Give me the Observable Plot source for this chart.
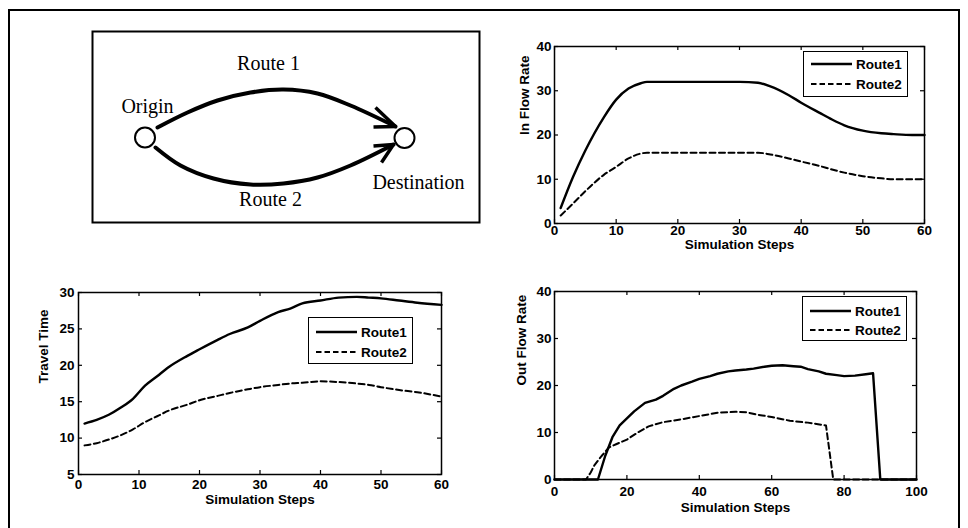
<!DOCTYPE html>
<html>
<head>
<meta charset="utf-8">
<script src="https://cdn.jsdelivr.net/npm/d3@7"></script>
<script src="https://cdn.jsdelivr.net/npm/@observablehq/plot@0.6"></script>
<style>
  body { margin: 0; background: white; }
  #root { position: relative; width: 968px; height: 528px; overflow: hidden; background: white; }
  .outer { position: absolute; left: 8px; top: 9px; width: 952px; height: 560px; border: 2px solid #000; box-sizing: border-box; }
  .panel { position: absolute; }
  .legend { position: absolute; border: 1.3px solid #000; background: white; box-sizing: border-box;
            font-family: "Liberation Sans", Arial, sans-serif; font-weight: bold; font-size: 13.5px; color: #000; }
  .legend .row { position: absolute; left: 0; height: 16px; display: flex; align-items: center; }
  .legend svg { display: block; }
</style>
</head>
<body>
<div id="root"><div class="outer"></div></div>
<script>
// ---------------- Data ----------------
const seriesNames = ["Route1", "Route2"];

// In Flow Rate panel
const inflowSteps = [1, 3, 5, 8, 10, 12, 14, 15, 20, 25, 30, 33, 35, 38, 40, 43, 45, 47, 50, 53, 55, 58, 60];
const inflowRoute1 = [3.5, 10.5, 16.5, 24, 28, 30.5, 31.7, 32, 32, 32, 32, 31.8, 31, 29, 27.3, 25, 23.5, 22.2, 21, 20.4, 20.2, 20, 20];
const inflowRoute2 = [1.8, 4.5, 7.3, 11, 12.8, 14.7, 15.8, 16, 16, 16, 16, 16, 15.6, 14.7, 14, 13, 12.2, 11.5, 10.7, 10.2, 10, 10, 10];
const inflowXTicks = [0, 10, 20, 30, 40, 50, 60];
const inflowYTicks = [0, 10, 20, 30, 40];

// Travel Time panel
const travelSteps = [1, 3, 5, 7, 9, 11, 13, 15, 18, 20, 23, 25, 28, 30, 33, 35, 37, 40, 43, 46, 48, 50, 53, 56, 60];
const travelRoute1 = [12, 12.5, 13.2, 14.2, 15.4, 17.2, 18.5, 19.8, 21.3, 22.2, 23.5, 24.3, 25.2, 26.1, 27.3, 27.8, 28.5, 28.9, 29.3, 29.4, 29.3, 29.2, 28.9, 28.6, 28.3];
const travelRoute2 = [9, 9.3, 9.8, 10.4, 11.2, 12.2, 13, 13.8, 14.6, 15.2, 15.8, 16.2, 16.7, 17, 17.3, 17.5, 17.6, 17.8, 17.7, 17.5, 17.3, 17, 16.6, 16.3, 15.7];
const travelXTicks = [0, 10, 20, 30, 40, 50, 60];
const travelYTicks = [5, 10, 15, 20, 25, 30];

// Out Flow Rate panel
const outflowStepsR1 = [0, 12, 14, 16, 18, 20, 22, 25, 28, 30, 33, 35, 38, 40, 43, 45, 48, 50, 53, 55, 58, 60, 63, 66, 68, 70, 73, 75, 78, 80, 83, 86, 88, 90, 100];
const outflowRoute1 = [0, 0, 5, 9, 11.5, 13, 14.5, 16.3, 17, 17.8, 19.3, 20, 20.8, 21.4, 22, 22.5, 23, 23.2, 23.4, 23.6, 24, 24.2, 24.3, 24.1, 24, 23.5, 23, 22.5, 22.2, 22, 22.1, 22.4, 22.6, 0, 0];
const outflowStepsR2 = [0, 8.7, 10, 11, 13, 15, 17, 20, 23, 26, 30, 35, 40, 45, 50, 53, 56, 60, 65, 70, 75, 77, 100];
const outflowRoute2 = [0, 0, 1.5, 3, 5, 6.8, 7.5, 8.5, 10, 11.3, 12.2, 12.8, 13.5, 14.2, 14.4, 14.3, 13.8, 13.3, 12.5, 12.1, 11.5, 0, 0];
const outflowXTicks = [0, 20, 40, 60, 80, 100];
const outflowYTicks = [0, 10, 20, 30, 40];

// Network diagram (box-local units)
const diagramNodes = [{name: "Origin", x: 52.5, y: 106}, {name: "Destination", x: 312, y: 106.5}];
const diagramLabels = [
  {text: "Route 1", x: 176, y: 32},
  {text: "Origin", x: 55, y: 75},
  {text: "Route 2", x: 178, y: 168},
  {text: "Destination", x: 326, y: 151}
];
const route1Path = [[65, 96], [95, 81], [125, 69], [158, 61], [191, 58], [225, 62], [258, 74], [303, 95]];
const route2Path = [[63, 116], [88, 134], [121, 147], [158, 153], [191, 152], [225, 146], [258, 134], [301, 113]];
const route1Head = [[283, 76], [303, 95], [281, 95.6]];
const route2Head = [[281, 114.5], [301, 113], [289, 131]];

// ---------------- Helpers ----------------
const root = document.getElementById("root");
const FONT = '"Liberation Sans", Arial, Helvetica, sans-serif';
const dash = "6,3.5";

function zip(xs, ys) { return xs.map((x, i) => ({x, y: ys[i]})); }

function place(el, left, top) {
  el.classList.add("panel");
  el.style.left = left + "px";
  el.style.top = top + "px";
  root.appendChild(el);
}

function makePanel(cfg) {
  const innerW = cfg.width - cfg.marginLeft - cfg.marginRight;
  const innerH = cfg.height - cfg.marginTop - cfg.marginBottom;
  const tick = 4;
  const plot = Plot.plot({
    width: cfg.width, height: cfg.height,
    marginLeft: cfg.marginLeft, marginRight: cfg.marginRight,
    marginTop: cfg.marginTop, marginBottom: cfg.marginBottom,
    style: {background: "none", fontFamily: FONT, fontSize: "13.5px", fontWeight: "bold", color: "#000", overflow: "visible"},
    x: {domain: cfg.xDomain, label: null},
    y: {domain: cfg.yDomain, label: null},
    marks: [
      Plot.ruleX(cfg.xTicks, {insetTop: innerH - tick, strokeWidth: 1.2}),
      Plot.ruleX(cfg.xTicks, {insetBottom: innerH - tick, strokeWidth: 1.2}),
      Plot.ruleY(cfg.yTicks, {insetRight: innerW - tick, strokeWidth: 1.2}),
      Plot.ruleY(cfg.yTicks, {insetLeft: innerW - tick, strokeWidth: 1.2}),
      Plot.axisX(cfg.xTicks, {tickSize: 0, tickPadding: cfg.xPad, label: null}),
      Plot.axisY(cfg.yTicks, {tickSize: 0, tickPadding: cfg.yPad, label: null}),
      Plot.text([cfg.xLabel], {text: d => d, frameAnchor: "bottom", dy: cfg.xLabelDy}),
      Plot.text([cfg.yLabel], {text: d => d, frameAnchor: "left", rotate: -90, dx: cfg.yLabelDx}),
      Plot.line(cfg.s1, {x: "x", y: "y", stroke: "#000", strokeWidth: 2.4, curve: cfg.curve}),
      Plot.line(cfg.s2, {x: "x", y: "y", stroke: "#000", strokeWidth: 2, strokeDasharray: dash, curve: cfg.curve}),
      Plot.frame({stroke: "#000", strokeWidth: 1.5})
    ]
  });
  place(plot, cfg.left, cfg.top);
}

function makeLegend(box) {
  const div = document.createElement("div");
  div.className = "legend";
  div.style.left = box.left + "px";
  div.style.top = box.top + "px";
  div.style.width = box.width + "px";
  div.style.height = box.height + "px";
  seriesNames.forEach((name, i) => {
    const row = document.createElement("div");
    row.className = "row";
    row.style.top = (box.rows[i] - box.top - 8) + "px";
    const svg = document.createElementNS("http://www.w3.org/2000/svg", "svg");
    svg.setAttribute("width", 48);
    svg.setAttribute("height", 16);
    const ln = document.createElementNS("http://www.w3.org/2000/svg", "line");
    ln.setAttribute("x1", 7); ln.setAttribute("x2", 48);
    ln.setAttribute("y1", 8); ln.setAttribute("y2", 8);
    ln.setAttribute("stroke", "#000");
    ln.setAttribute("stroke-width", i === 0 ? 2.4 : 2);
    if (i === 1) ln.setAttribute("stroke-dasharray", "5.5,3");
    svg.appendChild(ln);
    row.appendChild(svg);
    const t = document.createElement("span");
    t.textContent = name;
    t.style.marginLeft = "4px";
    row.appendChild(t);
    div.appendChild(row);
  });
  root.appendChild(div);
}

// ---------------- Diagram ----------------
const diagram = Plot.plot({
  width: 484, height: 264,
  marginLeft: 92, marginRight: 5, marginTop: 31, marginBottom: 42,
  style: {background: "none", overflow: "visible"},
  x: {domain: [0, 387], axis: null},
  y: {domain: [0, 191], reverse: true, axis: null},
  marks: [
    Plot.frame({stroke: "#000", strokeWidth: 2}),
    Plot.line(route1Path, {x: d => d[0], y: d => d[1], stroke: "#000", strokeWidth: 4, curve: "catmull-rom"}),
    Plot.line(route2Path, {x: d => d[0], y: d => d[1], stroke: "#000", strokeWidth: 4, curve: "catmull-rom"}),
    Plot.line(route1Head, {x: d => d[0], y: d => d[1], stroke: "#000", strokeWidth: 3.5, strokeLinejoin: "miter", strokeLinecap: "butt"}),
    Plot.line(route2Head, {x: d => d[0], y: d => d[1], stroke: "#000", strokeWidth: 3.5, strokeLinejoin: "miter", strokeLinecap: "butt"}),
    Plot.dot(diagramNodes, {x: "x", y: "y", r: 10, stroke: "#000", strokeWidth: 2, fill: "white"}),
    Plot.text(diagramLabels, {x: "x", y: "y", text: "text", fontFamily: '"Liberation Serif", "Times New Roman", serif', fontSize: 20, fill: "#000"})
  ]
});
place(diagram, 0, 0);

// ---------------- Panels ----------------
makePanel({
  left: 484, top: 30, width: 460, height: 235,
  marginLeft: 70, marginRight: 20, marginTop: 16, marginBottom: 42,
  xDomain: [0, 60], yDomain: [0, 40], xTicks: inflowXTicks, yTicks: inflowYTicks,
  xPad: 2, yPad: 3, xLabelDy: 25, yLabelDx: -30,
  xLabel: "Simulation Steps", yLabel: "In Flow Rate",
  s1: zip(inflowSteps, inflowRoute1), s2: zip(inflowSteps, inflowRoute2), curve: "monotone-x"
});
makeLegend({left: 803, top: 51, width: 105, height: 46, rows: [63, 83]});

makePanel({
  left: 0, top: 276, width: 461, height: 252,
  marginLeft: 78, marginRight: 20, marginTop: 16, marginBottom: 54,
  xDomain: [0, 60], yDomain: [5, 30], xTicks: travelXTicks, yTicks: travelYTicks,
  xPad: 5, yPad: 4, xLabelDy: 29, yLabelDx: -35,
  xLabel: "Simulation Steps", yLabel: "Travel Time",
  s1: zip(travelSteps, travelRoute1), s2: zip(travelSteps, travelRoute2), curve: "monotone-x"
});
makeLegend({left: 308, top: 317, width: 105, height: 47, rows: [331, 351]});

makePanel({
  left: 484, top: 275, width: 452, height: 253,
  marginLeft: 70, marginRight: 20, marginTop: 16, marginBottom: 49,
  xDomain: [0, 100], yDomain: [0, 40], xTicks: outflowXTicks, yTicks: outflowYTicks,
  xPad: 7, yPad: 3, xLabelDy: 32, yLabelDx: -33,
  xLabel: "Simulation Steps", yLabel: "Out Flow Rate",
  s1: zip(outflowStepsR1, outflowRoute1), s2: zip(outflowStepsR2, outflowRoute2), curve: "linear"
});
makeLegend({left: 802, top: 296, width: 105, height: 45, rows: [310, 329]});
</script>
</body>
</html>
